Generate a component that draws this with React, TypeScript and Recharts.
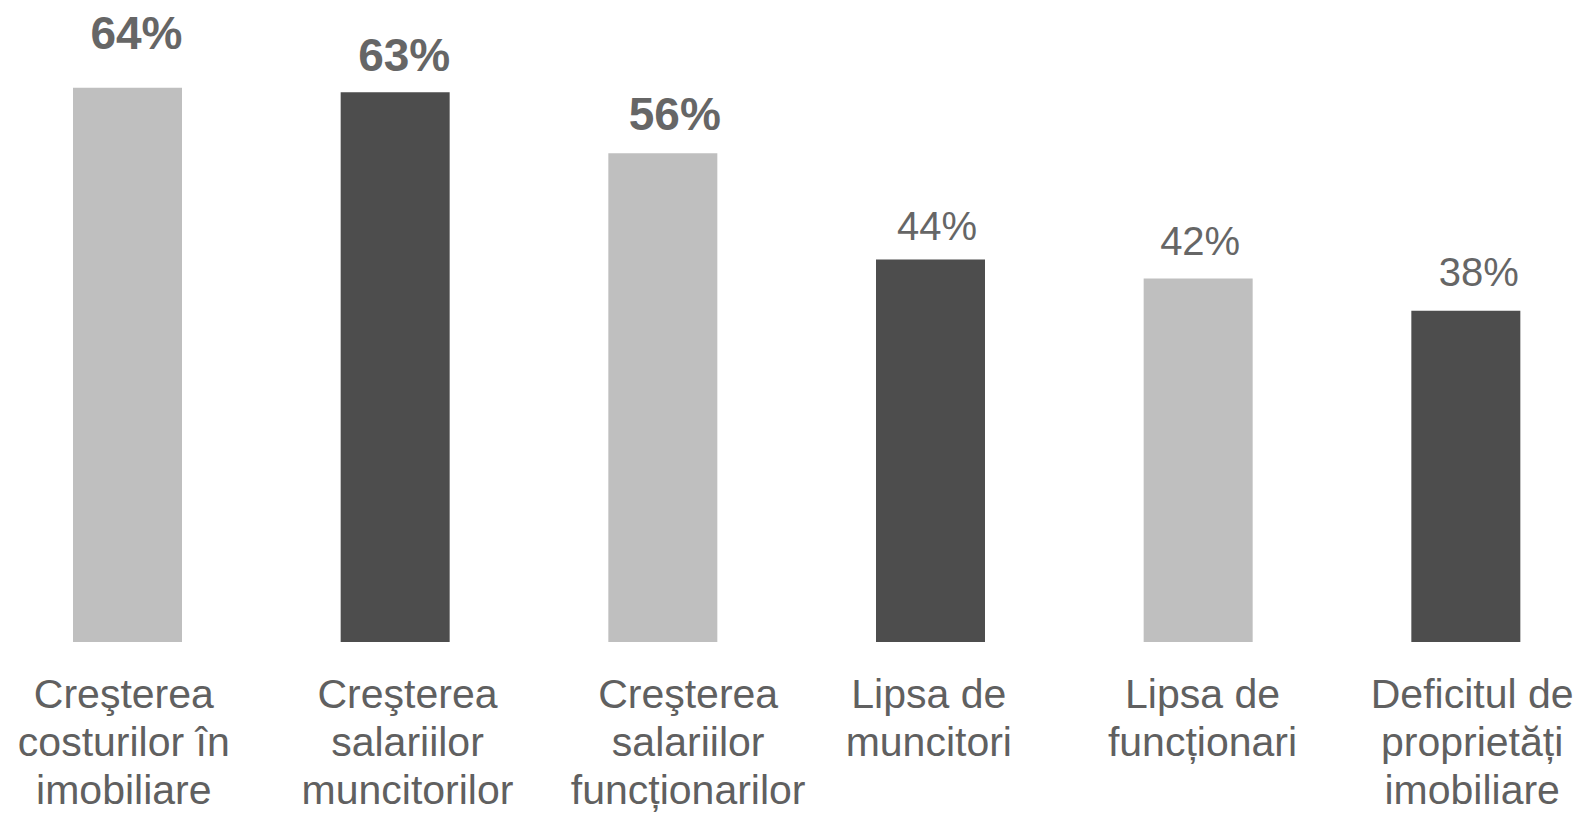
import React from "react";
import { BarChart, Bar, XAxis, YAxis, Cell, LabelList } from "recharts";

const categories = [
  "Creşterea\ncosturilor în\nimobiliare",
  "Creşterea\nsalariilor\nmuncitorilor",
  "Creşterea\nsalariilor\nfuncționarilor",
  "Lipsa de\nmuncitori",
  "Lipsa de\nfuncționari",
  "Deficitul de\nproprietăți\nimobiliare",
];
const values = [63.6, 63.1, 56.1, 43.9, 41.7, 38.0];
const valueLabels = ["64%", "63%", "56%", "44%", "42%", "38%"];
const barColors = ["#BFBFBF", "#4D4D4D", "#BFBFBF", "#4D4D4D", "#BFBFBF", "#4D4D4D"];
const boldLabels = [true, true, true, false, false, false];

const data = categories.map((name, i) => ({
  name,
  value: values[i],
  label: valueLabels[i],
}));

const FONT = "'Liberation Sans', Arial, sans-serif";

// hand-placed text nudges of the original slide (pixels)
const TICK_NUDGE_X = [-4, 12, 25, -2, 4, 6];
const VALUE_NUDGE_X = [9, 9, 12, 6.5, 2, 13];
const VALUE_LIFT = [39, 21, 23, 19.5, 23.5, 25];

const CategoryTick = (props: any) => {
  const { x, y, payload, index } = props;
  const lines = String(payload.value).split("\n");
  const cx = x + (TICK_NUDGE_X[index] ?? 0);
  return (
    <text
      x={cx}
      y={y}
      textAnchor="middle"
      fill="#606060"
      fontFamily={FONT}
      fontSize={41}
    >
      {lines.map((l, i) => (
        <tspan key={i} x={cx} dy={i === 0 ? 58 : 48}>
          {l}
        </tspan>
      ))}
    </text>
  );
};

const ValueLabel = (props: any) => {
  const { x, y, width, index } = props;
  const bold = boldLabels[index];
  return (
    <text
      x={x + width / 2 + VALUE_NUDGE_X[index]}
      y={y - VALUE_LIFT[index]}
      textAnchor="middle"
      fill="#666666"
      fontFamily={FONT}
      fontWeight={bold ? "bold" : "normal"}
      fontSize={bold ? 46 : 40}
    >
      {valueLabels[index]}
    </text>
  );
};

export default function App() {
  return (
    <div
      style={{
        position: "fixed",
        left: 0,
        top: 0,
        width: 1579,
        height: 815,
        overflow: "hidden",
        background: "#ffffff",
      }}
    >
      <div style={{ position: "absolute", left: -6, top: 0 }}>
        <BarChart
          width={1606}
          height={815}
          data={data}
          margin={{ top: 32, right: 0, left: 0, bottom: 0 }}
          barSize={109}
        >
          <XAxis
            dataKey="name"
            axisLine={false}
            tickLine={false}
            interval={0}
            height={173}
            tick={<CategoryTick />}
          />
          <YAxis hide domain={[0, 70]} />
          <Bar dataKey="value" isAnimationActive={false}>
            {data.map((d, i) => (
              <Cell key={i} fill={barColors[i]} />
            ))}
            <LabelList dataKey="label" content={<ValueLabel />} />
          </Bar>
        </BarChart>
      </div>
    </div>
  );
}
